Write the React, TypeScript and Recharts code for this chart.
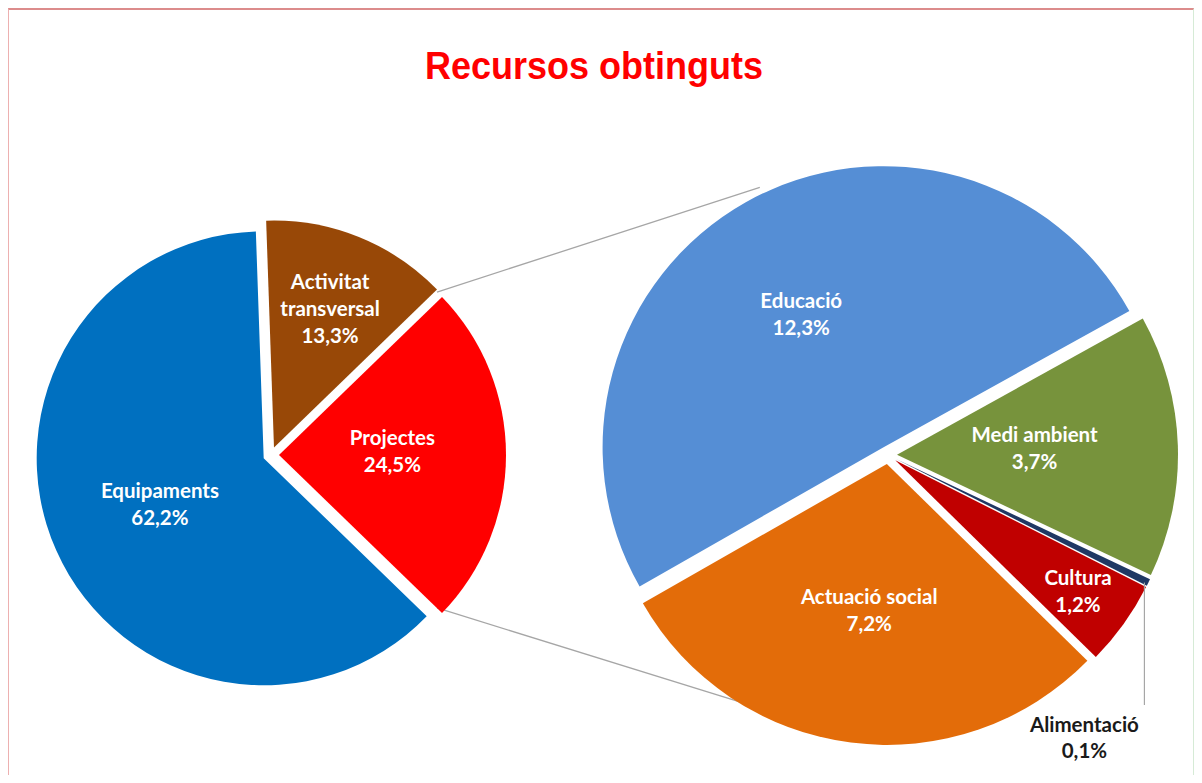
import React from 'react';
import { PieChart, Pie, Cell, Sector, Customized } from 'recharts';

// main pie (values in % of total)
const mainNames = ['Projectes', 'Activitat transversal', 'Equipaments'];
const mainValues = [24.5, 13.3, 62.2];

// secondary pie: breakdown of "Projectes"
const subNames = ['Educació', 'Actuació social', 'Cultura', 'Alimentació', 'Medi ambient'];
const subValues = [12.3, 7.2, 1.2, 0.1, 3.7];

const COLORS: Record<string, string> = {
  Projectes: '#FF0000',
  'Activitat transversal': '#984807',
  Equipaments: '#0070C0',
  'Educació': '#558ED5',
  'Actuació social': '#E36C09',
  Cultura: '#C00000',
  'Alimentació': '#1F3864',
  'Medi ambient': '#77933C',
};

// label placement: [fraction of radius, angle shift in degrees]
const LABEL_POS: Record<string, [number, number]> = {
  Equipaments: [0.5, 0],
  'Activitat transversal': [0.66, 0],
  Projectes: [0.5, 2],
  'Educació': [0.555, 2.5],
  'Medi ambient': [0.49, 0.6],
  Cultura: [0.8, 0],
  'Actuació social': [0.525, 0.5],
};

const LABEL_LINES: Record<string, string[]> = {
  'Activitat transversal': ['Activitat', 'transversal'],
};

const RAD = Math.PI / 180;
const W = 1184;
const H = 765;

const LEFT = { cx: 257, cy: 440, r: 227, explode: 8 };
const RIGHT = { cx: 874, cy: 440, r: 281, explode: 9 };
const SUB_START = 29;
const CONNECT_TOP = 115;
const CONNECT_BOTTOM = 240;
const LABEL_FONT = 'Lato, "Open Sans", sans-serif';
const LABEL_SIZE = 20.5;

const mainData = mainNames.map((name, i) => ({ name, value: mainValues[i] }));
const subData = subNames.map((name, i) => ({ name, value: subValues[i] }));

const mainTotal = mainValues.reduce((a, b) => a + b, 0);
const subTotal = subValues.reduce((a, b) => a + b, 0);
const halfProj = ((mainValues[0] / mainTotal) * 360) / 2;

const fmt = (v: number) => `${v.toFixed(1).replace('.', ',')}%`;

const explodedShape = (explode: number) => (props: any) => {
  const rad = props.midAngle * RAD;
  return (
    <Sector
      {...props}
      cx={props.cx + explode * Math.cos(rad)}
      cy={props.cy - explode * Math.sin(rad)}
      stroke="none"
    />
  );
};

const makeLabel = (explode: number) => (props: any) => {
  const { cx, cy, midAngle, outerRadius, name, value } = props;
  const rad = midAngle * RAD;
  const ex = cx + explode * Math.cos(rad);
  const ey = cy - explode * Math.sin(rad);

  if (name === 'Alimentació') {
    const ox = ex + outerRadius * Math.cos(rad) - 4;
    const oy = ey - outerRadius * Math.sin(rad);
    const bottom = 695;
    const tx = ox - 60;
    return (
      <g>
        <line x1={ox} y1={oy} x2={ox} y2={bottom} stroke="#A6A6A6" strokeWidth={1.2} />
        <text textAnchor="middle" fill="#1A1A1A" fontFamily={LABEL_FONT} fontSize={LABEL_SIZE} fontWeight={700}>
          <tspan x={tx} y={bottom + 27}>{name}</tspan>
          <tspan x={tx} y={bottom + 53}>{fmt(value)}</tspan>
        </text>
      </g>
    );
  }

  const [f, shift] = LABEL_POS[name] ?? [0.55, 0];
  const la = (midAngle + shift) * RAD;
  const x = ex + outerRadius * f * Math.cos(la);
  const y = ey - outerRadius * f * Math.sin(la);
  const lines = [...(LABEL_LINES[name] ?? [name]), fmt(value)];
  const n = lines.length;
  return (
    <text textAnchor="middle" fill="#FFFFFF" fontFamily={LABEL_FONT} fontSize={LABEL_SIZE} fontWeight={700}>
      {lines.map((l, i) => (
        <tspan key={i} x={x} y={y + (i - (n - 1) / 2) * 27 + 7}>
          {l}
        </tspan>
      ))}
    </text>
  );
};

const Connectors = () => {
  const lx = LEFT.cx + LEFT.explode;
  const top1 = {
    x: lx + LEFT.r * Math.cos(halfProj * RAD),
    y: LEFT.cy - LEFT.r * Math.sin(halfProj * RAD),
  };
  const bot1 = {
    x: lx + LEFT.r * Math.cos(-halfProj * RAD),
    y: LEFT.cy - LEFT.r * Math.sin(-halfProj * RAD),
  };
  const eduSpan = (subValues[0] / subTotal) * 360;
  const actSpan = (subValues[1] / subTotal) * 360;
  const eduMid = (SUB_START + eduSpan / 2) * RAD;
  const actMid = (SUB_START + eduSpan + actSpan / 2) * RAD;
  const top2 = {
    x: RIGHT.cx + RIGHT.explode * Math.cos(eduMid) + RIGHT.r * Math.cos(CONNECT_TOP * RAD),
    y: RIGHT.cy - RIGHT.explode * Math.sin(eduMid) - RIGHT.r * Math.sin(CONNECT_TOP * RAD),
  };
  const bot2 = {
    x: RIGHT.cx + RIGHT.explode * Math.cos(actMid) + RIGHT.r * Math.cos(CONNECT_BOTTOM * RAD),
    y: RIGHT.cy - RIGHT.explode * Math.sin(actMid) - RIGHT.r * Math.sin(CONNECT_BOTTOM * RAD),
  };
  return (
    <g>
      <line x1={top1.x} y1={top1.y} x2={top2.x} y2={top2.y} stroke="#A6A6A6" strokeWidth={1.3} />
      <line x1={bot1.x} y1={bot1.y} x2={bot2.x} y2={bot2.y} stroke="#A6A6A6" strokeWidth={1.3} />
    </g>
  );
};

const App: React.FC = () => {
  const leftShape = explodedShape(LEFT.explode);
  const rightShape = explodedShape(RIGHT.explode);
  return (
    <div
      style={{
        position: 'relative',
        width: W,
        height: H,
        borderTop: '2px solid #DC8C8C',
        borderLeft: '1px solid #EDB0B0',
        borderRight: '1px solid #D6EBD6',
        background: '#fff',
      }}
    >
      <div
        style={{
          position: 'absolute',
          top: 36,
          left: 0,
          width: 1170,
          textAlign: 'center',
          fontFamily: '"Liberation Sans", Arial, sans-serif',
          fontWeight: 700,
          fontSize: 36,
          lineHeight: '40px',
          color: '#FF0000',
          transform: 'scaleY(1.06)',
          zIndex: 1,
        }}
      >
        Recursos obtinguts
      </div>
      <PieChart width={W} height={H}>
        <Customized component={Connectors} />
        <Pie
          data={mainData}
          dataKey="value"
          nameKey="name"
          cx={LEFT.cx}
          cy={LEFT.cy}
          outerRadius={LEFT.r}
          startAngle={-halfProj}
          endAngle={360 - halfProj}
          stroke="none"
          shape={leftShape}
          activeShape={leftShape}
          inactiveShape={leftShape}
          label={makeLabel(LEFT.explode)}
          labelLine={false}
          isAnimationActive={false}
        >
          {mainData.map((d) => (
            <Cell key={d.name} fill={COLORS[d.name]} />
          ))}
        </Pie>
        <Pie
          data={subData}
          dataKey="value"
          nameKey="name"
          cx={RIGHT.cx}
          cy={RIGHT.cy}
          outerRadius={RIGHT.r}
          startAngle={SUB_START}
          endAngle={SUB_START + 360}
          stroke="none"
          shape={rightShape}
          activeShape={rightShape}
          inactiveShape={rightShape}
          label={makeLabel(RIGHT.explode)}
          labelLine={false}
          isAnimationActive={false}
        >
          {subData.map((d) => (
            <Cell key={d.name} fill={COLORS[d.name]} />
          ))}
        </Pie>
      </PieChart>
    </div>
  );
};

export default App;
